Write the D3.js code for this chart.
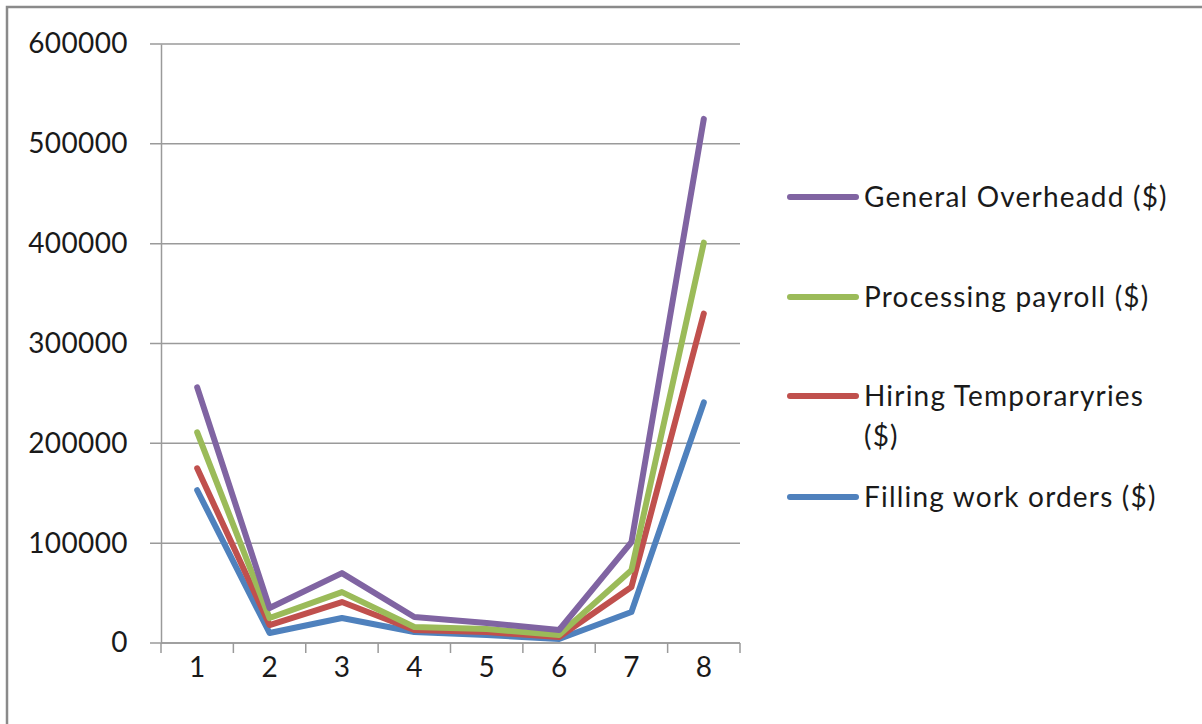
<!DOCTYPE html>
<html>
<head>
<meta charset="utf-8">
<script src="https://cdn.jsdelivr.net/npm/d3@7"></script>
<style>
  body { margin: 0; background: #fff; }
  text { font-family: Lato, "Open Sans", sans-serif; fill: #1a1a1a; }
</style>
</head>
<body>
<svg id="chart"></svg>
<script>
const categories = ['1', '2', '3', '4', '5', '6', '7', '8'];
const yTicks = [0, 100000, 200000, 300000, 400000, 500000, 600000];

const seriesNames = ['General Overheadd ($)', 'Processing payroll ($)', 'Hiring Temporaryries ($)', 'Filling work orders ($)'];
const seriesColors = ['#8064A2', '#9BBB59', '#C0504D', '#4F81BD'];

const generalOverhead = [256000, 35000, 70000, 26000, 20000, 13000, 101000, 525000];
const processingPayroll = [211000, 25000, 51000, 16000, 14000, 8000, 73000, 401000];
const hiringTemporaries = [175000, 18000, 41000, 13000, 11000, 6000, 56000, 330000];
const fillingWorkOrders = [153000, 10000, 25000, 11000, 8000, 4000, 31000, 241000];

const seriesValues = [generalOverhead, processingPayroll, hiringTemporaries, fillingWorkOrders];

const W = 1202, H = 724;
const margin = {top: 44, left: 161, right: 462, bottom: 81};
const width = W - margin.left - margin.right;
const height = H - margin.top - margin.bottom;

const svg = d3.select('#chart').attr('width', W).attr('height', H);

// frame (only top and left edges show in the reference)
svg.append('path')
  .attr('d', `M7,${H + 5} L7,7 L${W + 5},7`)
  .attr('fill', 'none')
  .attr('stroke', '#8a8a8a')
  .attr('stroke-width', 2.5);

const chart = svg.append('g')
  .attr('transform', `translate(${margin.left},${margin.top})`);

const x = d3.scaleBand().domain(categories).range([0, width]);
const y = d3.scaleLinear().domain([0, 600000]).range([height, 0]);

// gridlines
chart.append('g')
  .selectAll('line')
  .data(yTicks)
  .join('line')
  .attr('x1', -11)
  .attr('x2', width)
  .attr('y1', d => y(d))
  .attr('y2', d => y(d))
  .attr('stroke', '#9a9a9a')
  .attr('stroke-width', 1.5);

// y axis
const yAxisG = chart.append('g')
  .call(d3.axisLeft(y).tickValues(yTicks).tickFormat(d3.format('d')).tickSize(0).tickPadding(33));
yAxisG.select('.domain').attr('stroke', '#9a9a9a').attr('stroke-width', 1.5);
yAxisG.selectAll('text')
  .style('font-size', '28px')
  .style('font-family', 'Lato, sans-serif')
  .style('letter-spacing', '0.4px')
  .attr('fill', '#1a1a1a');

// x axis
const xAxisG = chart.append('g')
  .attr('transform', `translate(0,${height})`)
  .call(d3.axisBottom(x).tickSize(0).tickPadding(14));
xAxisG.select('.domain').remove();
xAxisG.selectAll('text').style('font-size', '28px').style('font-family', 'Lato, sans-serif').attr('fill', '#1a1a1a');

// x tick marks at band boundaries
chart.append('g')
  .selectAll('line')
  .data(d3.range(categories.length + 1))
  .join('line')
  .attr('x1', d => d * x.bandwidth())
  .attr('x2', d => d * x.bandwidth())
  .attr('y1', height)
  .attr('y2', height + 10)
  .attr('stroke', '#9a9a9a')
  .attr('stroke-width', 1.5);
chart.append('line')
  .attr('x1', 0).attr('x2', width)
  .attr('y1', height).attr('y2', height)
  .attr('stroke', '#9a9a9a').attr('stroke-width', 1.5);

// lines (draw bottom series first so purple is on top)
const line = d3.line()
  .x((d, i) => x(categories[i]) + x.bandwidth() / 2)
  .y(d => y(d));

for (let s = seriesValues.length - 1; s >= 0; s--) {
  chart.append('path')
    .datum(seriesValues[s])
    .attr('d', line)
    .attr('fill', 'none')
    .attr('stroke', seriesColors[s])
    .attr('stroke-width', 6)
    .attr('stroke-linejoin', 'round')
    .attr('stroke-linecap', 'round');
}

// legend
const legendRows = [
  {lines: ['General Overheadd ($)'], y: 197},
  {lines: ['Processing payroll ($)'], y: 297},
  {lines: ['Hiring Temporaryries', '($)'], y: 396},
  {lines: ['Filling work orders ($)'], y: 497}
];
const legend = svg.append('g');
legendRows.forEach((row, i) => {
  legend.append('line')
    .attr('x1', 790).attr('x2', 856)
    .attr('y1', row.y).attr('y2', row.y)
    .attr('stroke', seriesColors[i])
    .attr('stroke-width', 6)
    .attr('stroke-linecap', 'round');
  const t = legend.append('text')
    .attr('x', 864)
    .attr('y', row.y + 10)
    .style('font-size', '28px')
    .style('letter-spacing', '1.2px');
  row.lines.forEach((l, j) => {
    t.append('tspan').attr('x', 864).attr('dy', j === 0 ? 0 : 40).text(l);
  });
});
</script>
</body>
</html>
